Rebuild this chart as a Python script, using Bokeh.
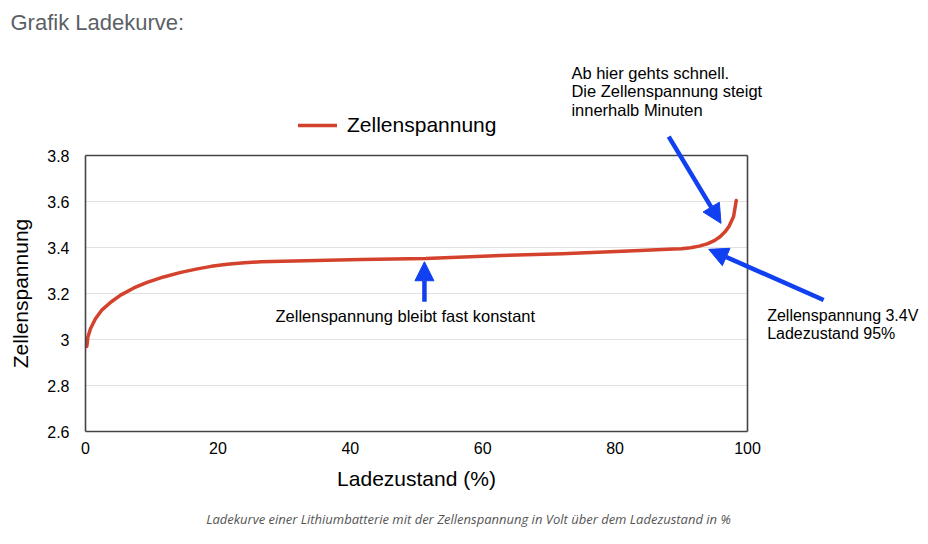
from bokeh.plotting import figure
from bokeh.models import (Range1d, FixedTicker, CustomJSTickFormatter, Legend, LegendItem,
                          Arrow, NormalHead, Label, LinearAxis)
from bokeh.embed import file_html
from bokeh.resources import INLINE

# ---- data ----
soc = [0.2, 0.35, 0.75, 1.5, 2.5, 3.8, 5.3, 7.3, 9.3, 11.8, 14.4, 16.9, 19.0, 21.4,
       24.0, 26.5, 31.5, 41.6, 51.4, 62.8, 72.0, 83.8, 88.8, 90.0, 91.4, 92.7, 93.9,
       95.0, 95.9, 96.6, 97.2, 97.9, 98.3]
voltage = [2.970, 3.010, 3.047, 3.090, 3.129, 3.162, 3.193, 3.224, 3.248, 3.272, 3.292,
           3.307, 3.318, 3.327, 3.334, 3.338, 3.341, 3.348, 3.352, 3.365, 3.373, 3.387,
           3.393, 3.395, 3.399, 3.406, 3.416, 3.430, 3.448, 3.468, 3.491, 3.535, 3.604]
x_ticks = [0, 20, 40, 60, 80, 100]
y_ticks = [2.6, 2.8, 3.0, 3.2, 3.4, 3.6, 3.8]
x_min, x_max = 0, 100
y_min, y_max = 2.6, 3.8

series_name = "Zellenspannung"
page_title = "Grafik Ladekurve:"
x_label = "Ladezustand (%)"
y_label = "Zellenspannung"
caption = "Ladekurve einer Lithiumbatterie mit der Zellenspannung in Volt über dem Ladezustand in %"
note_top = ["Ab hier gehts schnell.", "Die Zellenspannung steigt", "innerhalb Minuten"]
note_right = ["Zellenspannung 3.4V", "Ladezustand 95%"]
note_mid = "Zellenspannung bleibt fast konstant"

# arrows: (x_start, y_start, x_end, y_end) in data units
arrow_top = (88.1, 3.882, 96.0, 3.505)
arrow_right = (111.5, 3.172, 94.15, 3.392)
arrow_mid = (51.2, 3.164, 51.2, 3.338)

# ---- layout (pixels) ----
W, H = 920, 536
BOX_L, BOX_R, BOX_T, BOX_B = 85, 747, 155, 431
sx = (BOX_R - BOX_L) / (x_max - x_min)
sy = (BOX_B - BOX_T) / (y_max - y_min)
xr = Range1d(x_min - BOX_L / sx, x_max + (W - BOX_R) / sx)
yr = Range1d(y_min - (H - BOX_B) / sy, y_max + BOX_T / sy)
DY = 5.5 / sy  # text baseline correction

FONT = "Liberation Sans"
RED = "#d4412c"
BLUE = "#1040f0"
FRAME = "#444444"

p = figure(width=W, height=H, min_border=0, x_range=xr, y_range=yr,
           output_backend="svg", toolbar_location=None)
p.outline_line_color = None
p.background_fill_color = "white"
p.border_fill_color = "white"
p.grid.visible = False
p.xaxis.visible = False
p.yaxis.visible = False

def make_axis(side, loc, bounds, ticks, label=None):
    ax = LinearAxis(fixed_location=loc, bounds=bounds, ticker=FixedTicker(ticks=ticks),
                    axis_line_color=FRAME, axis_line_width=1.6,
                    major_tick_line_color=None, minor_tick_line_color=None,
                    major_tick_out=0, major_tick_in=0,
                    major_label_text_font=FONT, major_label_text_font_size="16px",
                    major_label_text_color="black",
                    axis_label_text_font=FONT, axis_label_text_font_size="21px",
                    axis_label_text_font_style="normal", axis_label_text_color="black")
    if label is not None:
        ax.axis_label = label
    p.add_layout(ax, side)
    return ax

xax = make_axis("below", y_min, (x_min, x_max), x_ticks, x_label)
xax.major_label_standoff = 10
xax.axis_label_standoff = 10
yax = make_axis("left", x_min, (y_min, y_max), y_ticks, y_label)
yax.formatter = CustomJSTickFormatter(code="return String(tick);")
yax.major_label_standoff = 16
yax.axis_label_standoff = 12
make_axis("above", y_max, (x_min, x_max), [])
make_axis("right", x_max, (y_min, y_max), [])

# horizontal grid lines inside the box
inner = [t for t in y_ticks if y_min < t < y_max]
p.segment(x0=[x_min] * len(inner), x1=[x_max] * len(inner), y0=inner, y1=inner,
          line_color="#e2e2e2", line_width=1)

r = p.line(soc, voltage, line_color=RED, line_width=3.5, line_cap="round", line_join="round")

legend = Legend(items=[LegendItem(label=series_name, renderers=[r])],
                location=(298, 399), orientation="horizontal",
                glyph_width=39, glyph_height=20, label_standoff=10,
                padding=0, margin=0, border_line_color=None, background_fill_alpha=0,
                label_text_font=FONT, label_text_font_size="21px", label_text_color="black")
p.add_layout(legend, "center")

for (xs, ys, xe, ye) in (arrow_top, arrow_right, arrow_mid):
    p.add_layout(Arrow(x_start=xs, y_start=ys, x_end=xe, y_end=ye,
                       line_color=BLUE, line_width=4.5,
                       end=NormalHead(size=19, fill_color=BLUE, line_color=BLUE, line_width=1)))

def add_label(txt, x, y, size, align="left", color="black", font=FONT, style="normal"):
    p.add_layout(Label(x=x, y=y + DY, text=txt, text_font=font, text_font_size=size,
                       text_align=align, text_baseline="alphabetic",
                       text_color=color, text_font_style=style))

for i, t in enumerate(note_top):
    add_label(t, 73.4, 4.136 - i * 0.08, "16.5px")
for i, t in enumerate(note_right):
    add_label(t, 102.97, 3.082 - i * 0.081, "16px")
add_label(note_mid, 28.7, 3.077, "16.5px")

add_label(page_title, -11.33, 4.353, "22px", color="#5c5f66")
add_label(caption, 57.85, 2.194, "13px", align="center", color="#555555",
          font="Open Sans", style="italic")

open("out.html", "w").write(file_html(p, INLINE))
